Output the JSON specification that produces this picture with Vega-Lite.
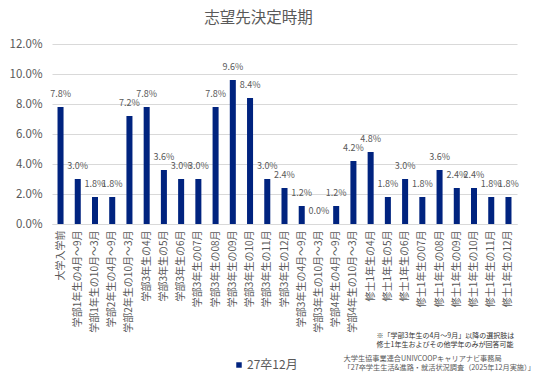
{
  "$schema": "https://vega.github.io/schema/vega-lite/v6.json",
  "autosize": {"type": "none"},
  "width": 465,
  "height": 180,
  "padding": {"left": 52, "top": 44, "right": 19, "bottom": 154},
  "background": "white",
  "title": {
    "text": "志望先決定時期",
    "font": "Noto Sans CJK JP",
    "fontSize": 15.5,
    "fontWeight": "normal",
    "color": "#595959",
    "anchor": "middle",
    "dx": -26,
    "offset": 12
  },
  "config": {
    "view": {"stroke": null},
    "font": "Noto Sans CJK JP"
  },
  "data": {
    "values": [
      {"period": "大学入学前", "value": 0.078, "series": "27卒12月"},
      {"period": "学部1年生の4月～9月", "value": 0.030, "series": "27卒12月"},
      {"period": "学部1年生の10月～3月", "value": 0.018, "series": "27卒12月"},
      {"period": "学部2年生の4月～9月", "value": 0.018, "series": "27卒12月"},
      {"period": "学部2年生の10月～3月", "value": 0.072, "series": "27卒12月"},
      {"period": "学部3年生の4月", "value": 0.078, "series": "27卒12月"},
      {"period": "学部3年生の5月", "value": 0.036, "series": "27卒12月"},
      {"period": "学部3年生の6月", "value": 0.030, "series": "27卒12月"},
      {"period": "学部3年生の07月", "value": 0.030, "series": "27卒12月"},
      {"period": "学部3年生の08月", "value": 0.078, "series": "27卒12月"},
      {"period": "学部3年生の09月", "value": 0.096, "series": "27卒12月"},
      {"period": "学部3年生の10月", "value": 0.084, "series": "27卒12月"},
      {"period": "学部3年生の11月", "value": 0.030, "series": "27卒12月"},
      {"period": "学部3年生の12月", "value": 0.024, "series": "27卒12月"},
      {"period": "学部3年生の4月～9月", "value": 0.012, "series": "27卒12月"},
      {"period": "学部3年生の10月～3月", "value": 0.000, "series": "27卒12月"},
      {"period": "学部4年生の4月～9月", "value": 0.012, "series": "27卒12月"},
      {"period": "学部4年生の10月～3月", "value": 0.042, "series": "27卒12月"},
      {"period": "修士1年生の4月", "value": 0.048, "series": "27卒12月"},
      {"period": "修士1年生の5月", "value": 0.018, "series": "27卒12月"},
      {"period": "修士1年生の6月", "value": 0.030, "series": "27卒12月"},
      {"period": "修士1年生の07月", "value": 0.018, "series": "27卒12月"},
      {"period": "修士1年生の08月", "value": 0.036, "series": "27卒12月"},
      {"period": "修士1年生の09月", "value": 0.024, "series": "27卒12月"},
      {"period": "修士1年生の10月", "value": 0.024, "series": "27卒12月"},
      {"period": "修士1年生の11月", "value": 0.018, "series": "27卒12月"},
      {"period": "修士1年生の12月", "value": 0.018, "series": "27卒12月"}
    ]
  },
  "encoding": {
    "x": {
      "field": "period",
      "type": "nominal",
      "sort": null,
      "scale": {"paddingInner": 0.65, "paddingOuter": 0.32},
      "axis": {
        "title": ["※「学部3年生の4月～9月」以降の選択肢は", "修士1年生およびその他学年のみが回答可能"],
        "titleX": 324,
        "titleY": 107,
        "titleAlign": "left",
        "titleAnchor": null,
        "titleBaseline": "top",
        "titleFontSize": 7,
        "titleFontWeight": "normal",
        "titleColor": "#333333",
        "titleLineHeight": 9.5,
        "labelAngle": -90,
        "labelFontSize": 10,
        "labelColor": "#595959",
        "labelPadding": 6,
        "labelLimit": 300,
        "ticks": false,
        "domainColor": "#d9d9d9",
        "grid": false
      }
    },
    "y": {
      "field": "value",
      "type": "quantitative",
      "scale": {"domain": [0, 0.12], "nice": false},
      "axis": {
        "values": [0, 0.02, 0.04, 0.06, 0.08, 0.1, 0.12],
        "format": ".1%",
        "title": ["大学生協事業連合UNIVCOOPキャリアナビ事務局", "「27卒学生生活&進路・就活状況調査（2025年12月実施）」"],
        "titleAngle": 0,
        "titleX": 291,
        "titleY": 310,
        "titleAlign": "left",
        "titleAnchor": null,
        "titleBaseline": "top",
        "titleFontSize": 7.2,
        "titleFontWeight": "normal",
        "titleColor": "#595959",
        "titleLineHeight": 9.5,
        "labelFontSize": 11.5,
        "labelColor": "#595959",
        "labelPadding": 10,
        "ticks": false,
        "domain": false,
        "gridColor": "#d9d9d9"
      }
    }
  },
  "layer": [
    {
      "mark": {"type": "bar"},
      "encoding": {
        "color": {
          "field": "series",
          "type": "nominal",
          "scale": {"range": ["#00237f"]},
          "legend": {
            "title": null,
            "orient": "none",
            "legendX": 181,
            "legendY": 315,
            "symbolType": "square",
            "symbolSize": 30,
            "labelFontSize": 12,
            "labelColor": "#595959",
            "labelOffset": 2
          }
        }
      }
    },
    {
      "mark": {"type": "text", "dy": -8, "fontSize": 9, "color": "#595959", "baseline": "bottom"},
      "encoding": {
        "text": {"field": "value", "type": "quantitative", "format": ".1%"}
      }
    }
  ]
}
